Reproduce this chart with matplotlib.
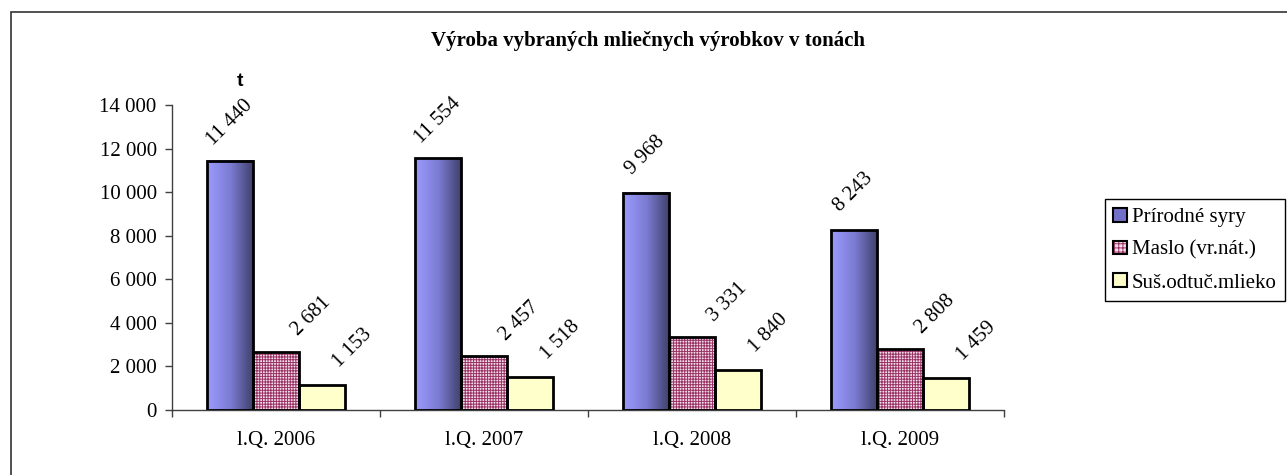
import numpy as np
import matplotlib
matplotlib.use("Agg")
import matplotlib.pyplot as plt
from matplotlib.patches import Rectangle, Patch
from matplotlib.colors import LinearSegmentedColormap
from matplotlib.ticker import FuncFormatter

plt.rcParams.update({
    'font.family': 'Liberation Serif',
    'font.size': 15,
    'hatch.linewidth': 0.7,
})

# ── data ─────────────────────────────────────────────────────────────────────
quarters = ['l.Q. 2006', 'l.Q. 2007', 'l.Q. 2008', 'l.Q. 2009']
series_names = ['Prírodné syry', 'Maslo (vr.nát.)', 'Suš.odtuč.mlieko']
syry = [11440, 11554, 9968, 8243]
maslo = [2681, 2457, 3331, 2808]
mlieko = [1153, 1518, 1840, 1459]

# ── style ────────────────────────────────────────────────────────────────────
W, H = 1287, 475
FS = 15
BAR_W = 0.2225
EDGE_LW = 2.0
MAROON = '#993366'
PINK_BG = '#F4DDE8'
YELLOW = '#FFFFCC'
grad = LinearSegmentedColormap.from_list('grad', ['#9B9BFF', '#7C7CD2', '#3E3E6A'])
# label offsets in pixels (dx, dy) per series
LABEL_OFF = [(0, 38), (35, 35), (30, 37)]

fmt = lambda v: f'{int(v):,}'.replace(',', '\u00a0')

fig = plt.figure(figsize=(W / 100, H / 100), dpi=100)
ax = fig.add_axes([172 / W, (H - 410) / H, 832 / W, 305 / H])

x = np.arange(len(quarters))
values = [syry, maslo, mlieko]

for s, vals in enumerate(values):
    xs = x + (s - 1) * BAR_W
    for xi, v in zip(xs, vals):
        x0, x1 = xi - BAR_W / 2, xi + BAR_W / 2
        if s == 0:
            g = np.linspace(0, 1, 256).reshape(1, -1)
            ax.imshow(g, cmap=grad, extent=[x0, x1, 0, v], aspect='auto',
                      zorder=2, interpolation='bicubic')
        elif s == 1:
            ax.add_patch(Rectangle((x0, 0), BAR_W, v, facecolor=PINK_BG,
                                   edgecolor=MAROON, hatch='++++++', lw=0, zorder=2))
        else:
            ax.add_patch(Rectangle((x0, 0), BAR_W, v, facecolor=YELLOW,
                                   edgecolor='none', zorder=2))
        ax.add_patch(Rectangle((x0, 0), BAR_W, v, facecolor='none',
                               edgecolor='black', lw=EDGE_LW, zorder=3))
        dx, dy = LABEL_OFF[s]
        ax.annotate(fmt(v), (xi, v), xytext=(dx, dy), textcoords='offset pixels',
                    ha='center', va='center', rotation=45, rotation_mode='anchor',
                    fontsize=FS)

ax.set_xlim(-0.5, len(quarters) - 0.5)
ax.set_ylim(0, 14000)
ax.set_yticks(np.arange(0, 14001, 2000))
ax.yaxis.set_major_formatter(FuncFormatter(lambda v, p: fmt(v)))
ax.set_xticks(x)
ax.set_xticklabels(quarters)
ax.set_xticks(np.arange(-0.5, len(quarters), 1.0), minor=True)
ax.tick_params(axis='x', which='major', length=0, pad=15, labelsize=FS)
ax.tick_params(axis='x', which='minor', length=5, width=1, color='#404040', direction='out')
ax.tick_params(axis='y', length=5, width=1, color='#404040', direction='out', pad=6,
               labelsize=FS)
for side in ['top', 'right']:
    ax.spines[side].set_visible(False)
for side in ['left', 'bottom']:
    ax.spines[side].set_color('#404040')
    ax.spines[side].set_linewidth(1)

# title and unit
fig.text(648 / W, 1 - 41 / H, 'Výroba vybraných mliečnych výrobkov v tonách',
         ha='center', va='center', fontsize=FS, fontweight='bold')
fig.text(240 / W, 1 - 81 / H, 't', ha='center', va='center', fontsize=14,
         fontweight='bold', family='Liberation Sans')

# legend
handles = [
    Patch(facecolor='#7070C8', edgecolor='black', lw=1.5),
    (Patch(facecolor=PINK_BG, edgecolor=MAROON, hatch='++++', lw=0),
     Patch(facecolor='none', edgecolor='black', lw=1.5)),
    Patch(facecolor=YELLOW, edgecolor='black', lw=1.5),
]
leg = fig.legend(handles, series_names, loc='lower right',
                 bbox_to_anchor=(1285 / W, 1 - 301 / H), borderaxespad=0,
                 fontsize=FS, handlelength=0.65, handleheight=0.65,
                 handletextpad=0.25, labelspacing=0.65, borderpad=0.4,
                 fancybox=False, edgecolor='black', framealpha=1)
leg.get_frame().set_linewidth(1)

# outer chart border (only top and left visible)
fig.add_artist(Rectangle((11 / W, -0.5), 2, 0.5 + (H - 12) / H,
                         transform=fig.transFigure, facecolor='none',
                         edgecolor='#333333', lw=1.2))

fig.savefig('out.png', dpi=100)
